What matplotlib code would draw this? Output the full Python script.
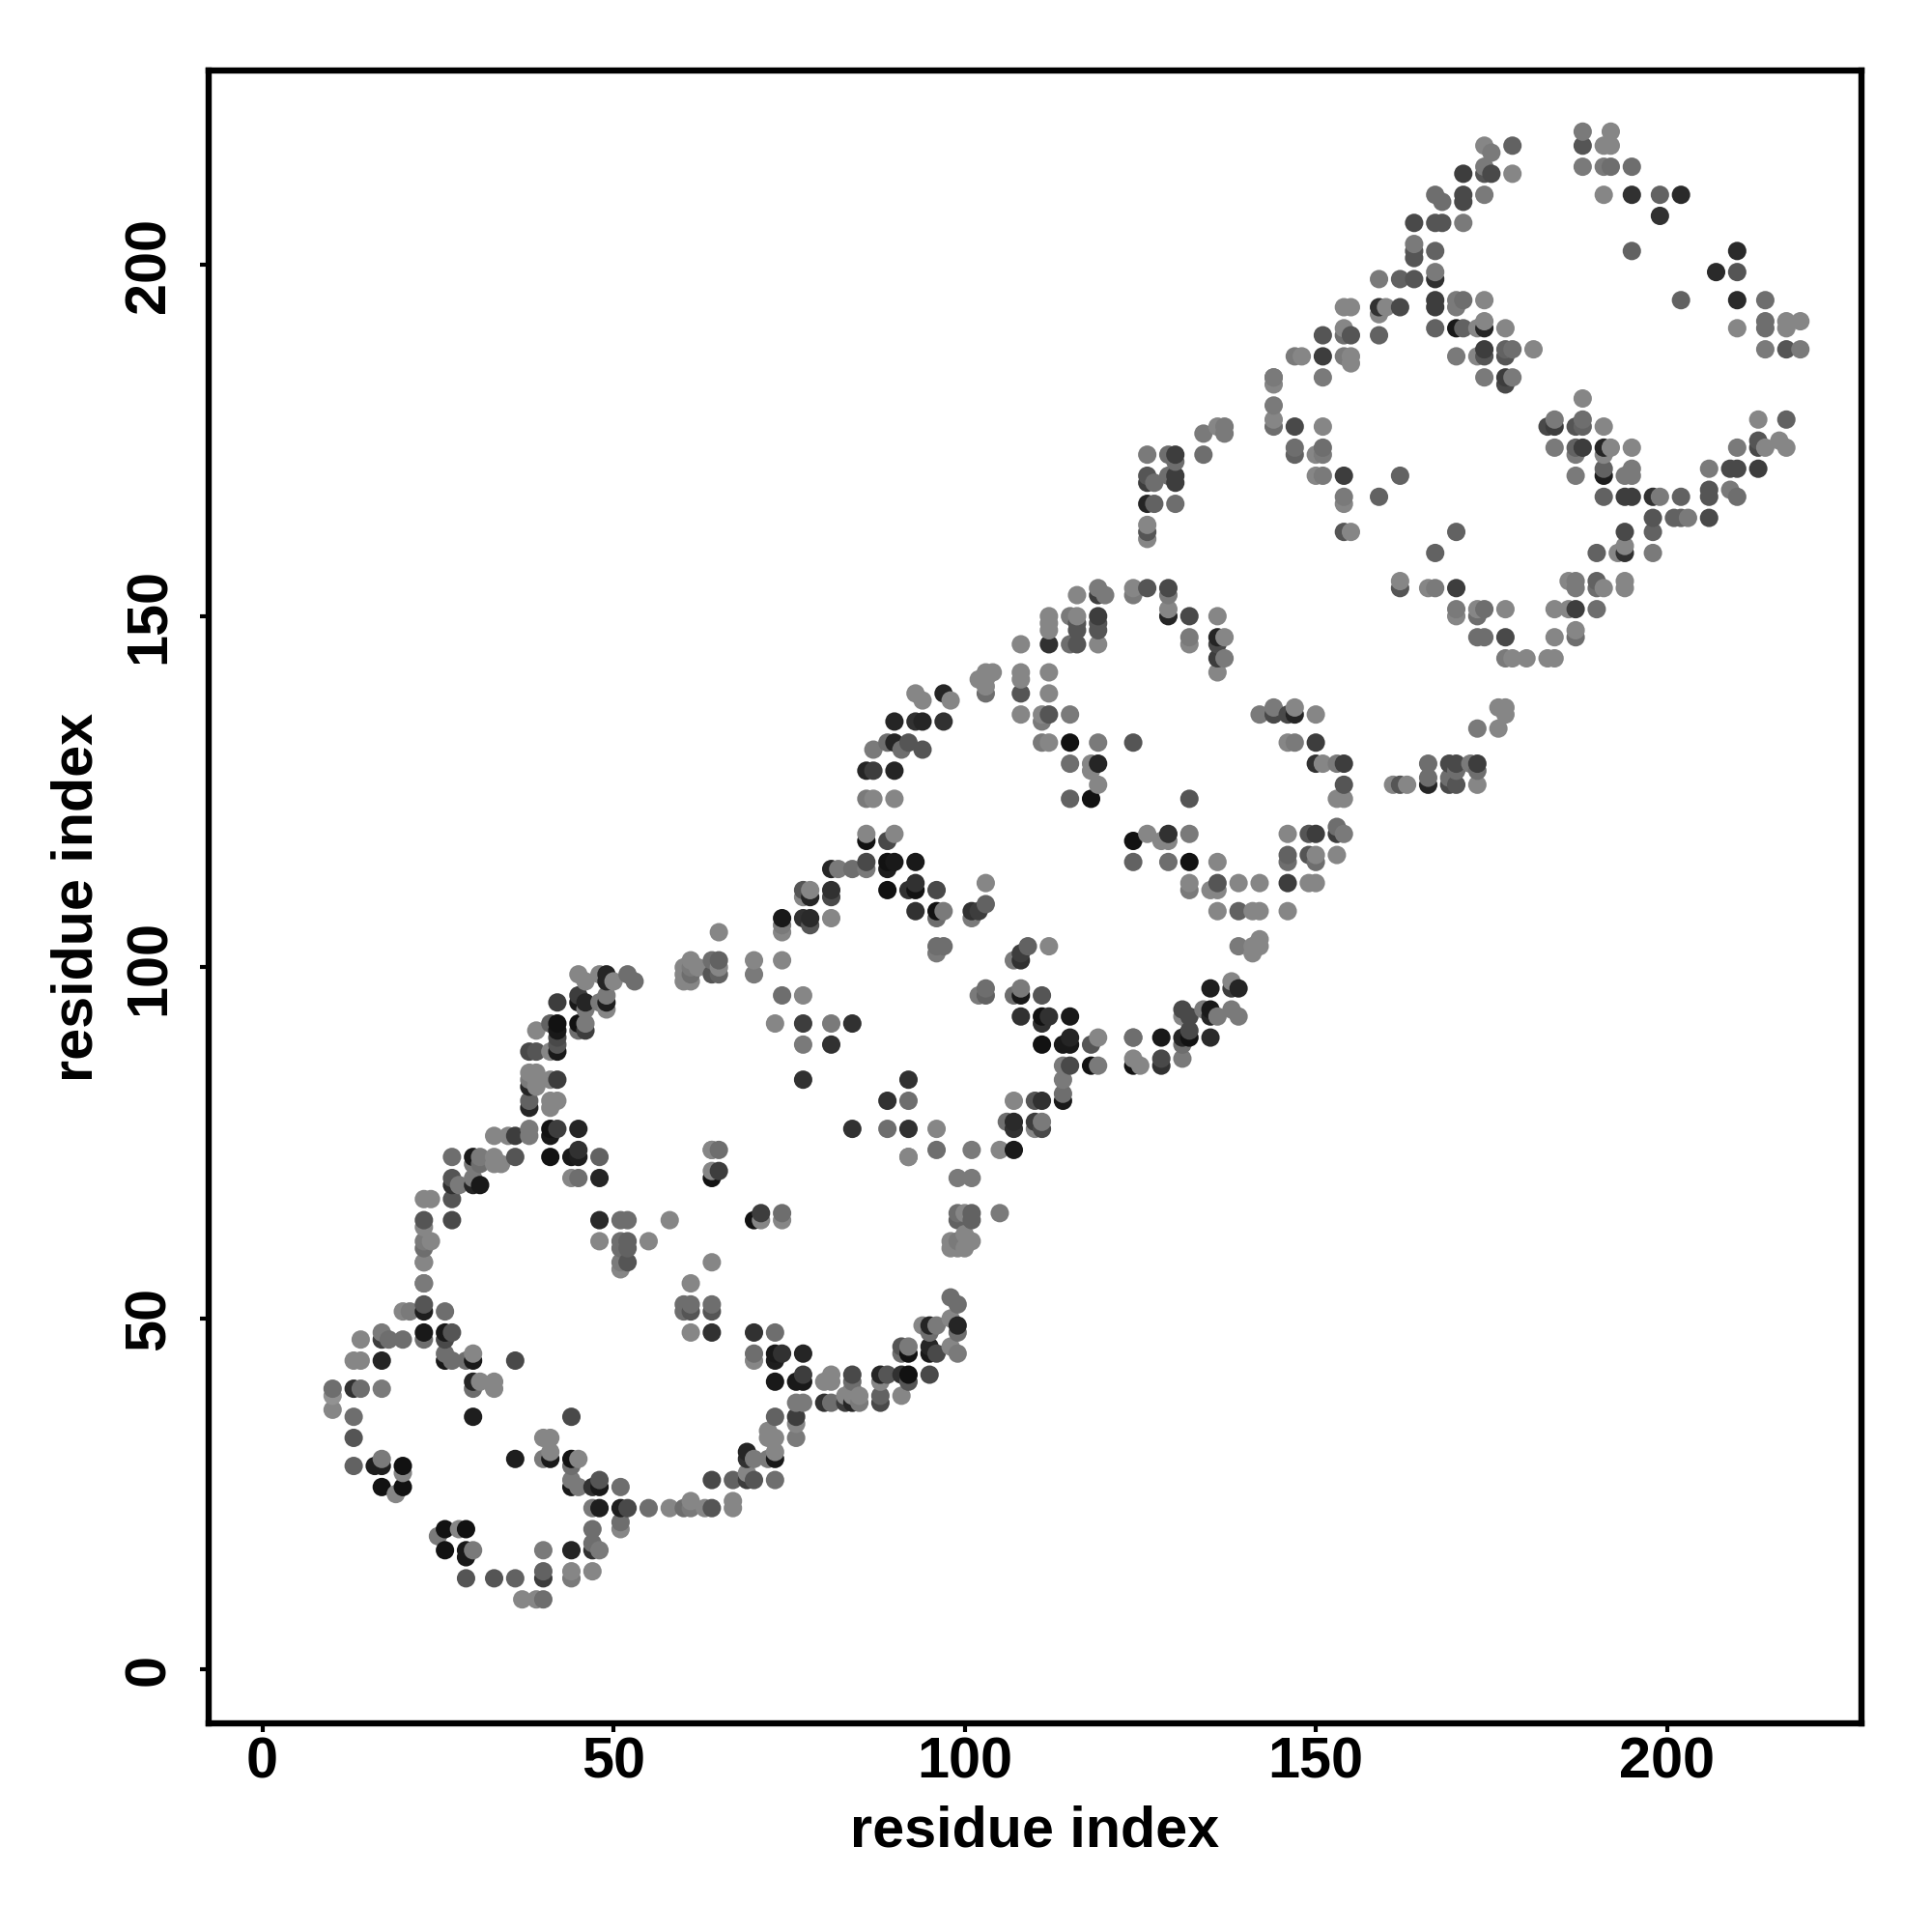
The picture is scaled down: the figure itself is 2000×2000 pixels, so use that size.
import numpy as np
import matplotlib
matplotlib.use("Agg")
import matplotlib.pyplot as plt

plt.rcParams["font.family"] = ["Liberation Sans", "DejaVu Sans"]
plt.rcParams["font.weight"] = "bold"

# contacts, one block per part of the diagonal band
x_low = [23, 23, 20, 21, 23, 23, 26, 23, 26, 27, 23, 26,
         17, 17, 18, 20, 14, 13, 14, 17, 26, 26, 27, 29,
         30, 30, 36, 10, 10, 10, 13, 14, 17, 30, 30, 31,
         33, 33, 13, 30, 44, 13, 13, 16, 17, 17, 20, 20,
         17, 20, 19, 36, 40, 41, 41, 40, 41, 44, 45, 44,
         44, 44, 45, 47, 48, 48, 51, 47, 48, 51, 52, 55,
         58, 51, 51, 47, 47, 47, 48, 44, 40, 47, 44, 44,
         40, 40, 29, 33, 36, 37, 39, 40, 26, 28, 29, 25,
         26, 29, 30, 29]
y_low = [58, 55, 51, 51, 51, 52, 51, 48, 48, 48, 47, 47,
         48, 47, 47, 47, 47, 44, 44, 44, 45, 44, 44, 44,
         44, 45, 44, 40, 39, 37, 40, 40, 40, 41, 40, 41,
         41, 40, 36, 36, 36, 33, 29, 29, 29, 30, 29, 28,
         26, 26, 25, 30, 30, 30, 31, 33, 33, 30, 30, 29,
         27, 26, 26, 26, 26, 27, 26, 23, 23, 23, 23, 23,
         23, 21, 20, 20, 18, 17, 17, 17, 17, 14, 14, 13,
         14, 13, 13, 13, 13, 10, 10, 10, 20, 20, 20, 19,
         17, 17, 17, 16]
g_low = [.5, .45, .5, .45, .07, .3, .4, .05, .05, .3, .4, .25,
         .45, .2, .4, .4, .5, .5, .5, .1, .4, .05, .4, .4,
         .05, .5, .25, .4, .55, .5, .15, .4, .45, .1, .4, .5,
         .5, .5, .4, .07, .25, .3, .35, .07, .07, .45, .02, .5,
         .02, .02, .5, .07, .45, .05, .5, .5, .5, .02, .5, .4,
         .45, .05, .45, .15, .05, .3, .4, .45, .07, .07, .25, .4,
         .5, .4, .5, .4, .4, .15, .45, .1, .45, .5, .5, .45,
         .35, .2, .3, .3, .35, .5, .5, .4, .02, .5, .02, .45,
         .02, .05, .45, .05]

x_arc = [92, 99, 101, 64, 65, 64, 70, 71, 71, 74, 74, 99,
         99, 100, 101, 101, 105, 98, 98, 99, 99, 100, 100, 101,
         64, 60, 60, 61, 61, 61, 64, 64, 61, 64, 70, 73,
         70, 70, 73, 73, 74, 77, 73, 76, 77, 77, 80, 81,
         81, 84, 84, 84, 88, 89, 88, 91, 92, 92, 95, 76,
         77, 80, 81, 83, 84, 85, 83, 84, 85, 88, 88, 91,
         73, 76, 76, 76, 72, 72, 73, 69, 69, 70, 72, 73,
         73, 64, 67, 69, 69, 70, 73, 60, 61, 61, 63, 64,
         67, 67, 98, 99, 98, 99, 99, 98, 99, 94, 95, 96,
         95, 91, 92, 91, 92, 95, 95, 96]
y_arc = [73, 70, 70, 70, 71, 71, 64, 65, 64, 65, 64, 65,
         64, 65, 65, 64, 65, 61, 60, 61, 60, 62, 60, 61,
         58, 52, 51, 55, 52, 51, 52, 51, 48, 48, 48, 48,
         45, 44, 45, 44, 45, 45, 41, 41, 41, 42, 41, 42,
         41, 42, 41, 40, 42, 42, 41, 42, 42, 41, 42, 38,
         38, 38, 38, 38, 38, 38, 39, 39, 39, 38, 39, 39,
         36, 36, 35, 33, 34, 33, 33, 31, 30, 30, 30, 31,
         30, 27, 27, 27, 28, 27, 27, 23, 23, 24, 23, 23,
         23, 24, 53, 52, 50, 49, 48, 46, 45, 49, 49, 49,
         48, 46, 46, 45, 45, 46, 45, 45]
g_arc = [.5, .45, .45, .02, .2, .5, .02, .2, .5, .4, .5, .4,
         .35, .5, .35, .35, .45, .5, .5, .45, .5, .5, .5, .5,
         .5, .4, .4, .5, .4, .3, .4, .3, .5, .15, .15, .4,
         .4, .5, .05, .07, .15, .1, .05, .05, .05, .2, .5, .5,
         .5, .25, .4, .5, .1, .3, .5, .15, .02, .3, .25, .45,
         .45, .15, .4, .2, .1, .45, .5, .5, .5, .25, .35, .5,
         .35, .2, .5, .45, .5, .5, .5, .1, .15, .45, .45, .5,
         .05, .25, .35, .2, .5, .3, .4, .4, .45, .5, .5, .3,
         .5, .5, .4, .4, .5, .1, .4, .5, .45, .5, .1, .45,
         .4, .3, .45, .4, .02, .1, .05, .25]

x_up = [65, 70, 70, 60, 60, 60, 61, 61, 61, 61, 62, 64,
        64, 65, 65, 65, 45, 46, 48, 49, 49, 50, 52, 53,
        42, 45, 45, 46, 46, 48, 49, 49, 49, 39, 41, 42,
        42, 42, 45, 45, 46, 46, 38, 39, 41, 42, 42, 38,
        39, 38, 39, 38, 39, 41, 42, 41, 42, 41, 38, 38,
        33, 35, 36, 38, 38, 41, 41, 42, 45, 27, 30, 31,
        30, 31, 33, 33, 34, 36, 41, 44, 45, 45, 48, 44,
        45, 48, 27, 27, 28, 30, 30, 31, 23, 24, 27, 23,
        23, 27, 48, 51, 52, 58, 48, 51, 52, 55, 51, 52,
        51, 52, 51, 64, 23, 24, 23, 23, 23, 64, 65]
y_up = [105, 101, 99, 100, 99, 98, 101, 100, 98, 99, 100, 101,
        99, 101, 100, 99, 99, 98, 99, 99, 98, 98, 99, 98,
        95, 96, 95, 95, 94, 95, 96, 95, 94, 91, 92, 92,
        91, 90, 92, 91, 92, 91, 88, 88, 88, 89, 88, 85,
        85, 84, 84, 83, 83, 84, 84, 81, 81, 80, 81, 80,
        76, 76, 76, 77, 76, 77, 76, 77, 77, 73, 73, 73,
        72, 72, 73, 72, 72, 73, 73, 73, 73, 74, 73, 70,
        70, 70, 70, 69, 69, 69, 70, 69, 67, 67, 67, 64,
        63, 64, 64, 64, 64, 64, 61, 61, 61, 61, 60, 60,
        57, 58, 58, 74, 61, 61, 60, 58, 55, 74, 74]
g_up = [.5, .5, .45, .5, .5, .5, .5, .45, .5, .4, .5, .4,
        .3, .35, .5, .35, .5, .5, .5, .1, .1, .5, .4, .4,
        .2, .2, .05, .1, .45, .45, .45, .07, .5, .5, .35, .02,
        .05, .25, .02, .4, .45, .2, .25, .3, .5, .3, .05, .5,
        .5, .45, .5, .1, .5, .5, .2, .5, .5, .5, .35, .1,
        .5, .5, .2, .45, .45, .02, .05, .2, .1, .4, .05, .45,
        .45, .4, .5, .5, .5, .3, .02, .05, .07, .15, .35, .5,
        .4, .1, .3, .15, .45, .1, .45, .05, .5, .5, .3, .3,
        .5, .25, .12, .4, .4, .5, .5, .4, .35, .5, .4, .35,
        .5, .3, .45, .5, .45, .5, .4, .5, .45, .5, .4]

x_mid = [86, 86, 89, 90, 81, 82, 84, 86, 86, 89, 89, 90,
         93, 77, 78, 77, 78, 81, 81, 89, 92, 93, 93, 96,
         103, 103, 74, 74, 74, 77, 78, 78, 81, 93, 96, 97,
         96, 101, 102, 101, 96, 97, 96, 109, 112, 107, 108, 108,
         74, 74, 77, 102, 103, 103, 107, 108, 108, 111, 108, 111,
         112, 111, 115, 73, 77, 81, 84, 77, 81, 111, 114, 115,
         115, 118, 119, 114, 115, 118, 119, 114, 114, 114, 107, 110,
         111, 77, 92, 89, 92, 84, 89, 92, 96, 106, 107, 107,
         110, 111, 110, 111, 96, 101, 105, 107, 92]
y_mid = [119, 118, 118, 119, 114, 114, 114, 115, 114, 115, 114, 115,
         115, 111, 111, 110, 110, 111, 110, 111, 111, 112, 111, 111,
         112, 109, 107, 106, 105, 107, 107, 106, 107, 108, 108, 108,
         107, 108, 108, 107, 103, 103, 102, 103, 103, 101, 102, 101,
         101, 96, 96, 96, 97, 96, 96, 97, 96, 96, 93, 93,
         93, 92, 93, 92, 92, 92, 92, 89, 89, 89, 89, 89,
         90, 89, 90, 86, 86, 86, 86, 84, 82, 81, 81, 81,
         81, 84, 84, 81, 81, 77, 77, 77, 77, 78, 78, 77,
         78, 78, 77, 77, 74, 74, 74, 74, 73]
g_mid = [.5, .02, .25, .5, .1, .45, .4, .25, .45, .02, .07, .05,
         .05, .3, .5, .5, .1, .15, .25, .02, .15, .15, .02, .25,
         .5, .35, .05, .45, .5, .15, .12, .3, .5, .15, .02, .45,
         .4, .15, .2, .45, .4, .4, .45, .35, .5, .45, .2, .15,
         .5, .4, .5, .45, .4, .35, .4, .45, .05, .3, .15, .02,
         .15, .15, .05, .5, .2, .45, .15, .45, .15, .02, .05, .05,
         .1, .3, .5, .45, .25, .02, .45, .45, .4, .05, .5, .3,
         .15, .15, .15, .15, .4, .15, .4, .15, .5, .4, .12, .15,
         .2, .45, .5, .25, .4, .45, .5, .05, .5]

x_band = [108, 112, 115, 116, 119, 112, 116, 119, 132, 132, 136, 137,
          136, 136, 137, 136, 102, 103, 104, 103, 103, 103, 108, 108,
          108, 112, 112, 108, 111, 111, 112, 115, 111, 112, 115, 119,
          124, 115, 118, 119, 118, 119, 115, 118, 132, 124, 126, 128,
          129, 129, 132, 124, 129, 132, 136, 132, 132, 135, 136, 136,
          139, 142, 136, 139, 141, 142, 146, 146, 149, 150, 146, 146,
          149, 150, 150, 153, 146, 149, 150, 153, 153, 154, 142, 144,
          144, 146, 147, 147, 150, 146, 147, 150, 150, 151, 153, 154,
          154, 153, 154, 139, 141, 142, 141, 142, 124, 124, 124, 124,
          125, 128, 128, 128, 131, 131, 132, 131, 131, 132, 132, 131,
          134, 135, 135, 136, 138, 139, 135, 135, 138, 138, 139, 86,
          87, 86, 87, 90, 90, 87, 89, 90, 91, 92, 90, 94,
          93, 94, 93, 94, 97, 97, 98]
y_band = [146, 146, 146, 146, 146, 148, 148, 148, 147, 146, 147, 147,
          146, 144, 144, 142, 141, 142, 142, 141, 140, 139, 142, 141,
          139, 142, 139, 136, 136, 135, 136, 136, 132, 132, 132, 132,
          132, 129, 129, 129, 128, 126, 124, 124, 124, 118, 119, 118,
          119, 118, 119, 115, 115, 115, 115, 112, 111, 111, 112, 111,
          112, 112, 108, 108, 108, 108, 108, 112, 112, 112, 116, 115,
          116, 116, 115, 116, 119, 119, 119, 120, 119, 119, 136, 137,
          136, 136, 137, 136, 136, 132, 132, 132, 129, 129, 129, 129,
          126, 124, 124, 103, 103, 104, 102, 103, 90, 87, 86, 90,
          86, 90, 87, 86, 94, 93, 91, 90, 87, 93, 90, 89,
          94, 94, 93, 93, 94, 93, 90, 97, 98, 97, 97, 124,
          124, 128, 128, 128, 124, 131, 132, 132, 131, 132, 135, 131,
          135, 135, 139, 138, 135, 139, 138]
g_band = [.5, .15, .4, .3, .5, .5, .3, .3, .45, .5, .1, .5,
          .25, .2, .45, .5, .5, .5, .5, .5, .5, .4, .5, .5,
          .3, .5, .5, .5, .5, .45, .3, .45, .45, .5, .02, .45,
          .3, .4, .5, .1, .5, .5, .35, .02, .3, .02, .5, .5,
          .15, .5, .45, .35, .4, .02, .5, .5, .45, .5, .3, .5,
          .5, .5, .5, .35, .5, .5, .5, .2, .5, .5, .35, .4,
          .3, .5, .4, .5, .5, .3, .2, .4, .2, .45, .45, .45,
          .25, .25, .5, .1, .5, .5, .45, .2, .15, .5, .45, .2,
          .3, .5, .5, .45, .5, .5, .5, .5, .4, .5, .02, .4,
          .5, .05, .25, .15, .25, .5, .25, .1, .45, .25, .02, .4,
          .45, .05, .1, .45, .45, .45, .12, .07, .5, .2, .1, .45,
          .5, .1, .2, .1, .5, .45, .4, .1, .4, .3, .1, .3,
          .15, .1, .5, .5, .15, .1, .5]

x_hi = [144, 144, 144, 144, 147, 151, 134, 136, 137, 137, 126, 129,
        130, 130, 134, 147, 147, 150, 151, 151, 126, 126, 127, 129,
        130, 130, 150, 151, 154, 162, 154, 154, 159, 126, 127, 130,
        126, 126, 126, 154, 155, 116, 119, 119, 120, 124, 124, 126,
        129, 129, 129, 129, 132, 136, 112, 112, 115, 116, 116, 119,
        119, 170, 167, 162, 162, 166, 167, 170, 186, 187, 187, 190,
        190, 191, 194, 194, 170, 170, 173, 174, 173, 177, 184, 186,
        187, 190, 173, 174, 177, 184, 187, 187, 177, 178, 180, 183,
        184, 176, 177, 177, 173, 176, 166, 169, 170, 170, 172, 173,
        173, 161, 162, 163, 166, 166, 169, 169, 170, 173, 144, 144,
        147, 148, 151, 151, 151]
y_hi = [183, 180, 178, 177, 177, 177, 176, 177, 177, 176, 173, 173,
        173, 172, 173, 174, 173, 173, 174, 173, 170, 169, 169, 170,
        170, 169, 170, 170, 170, 170, 167, 166, 167, 166, 166, 166,
        163, 162, 161, 162, 162, 153, 154, 153, 153, 154, 153, 154,
        154, 153, 151, 150, 150, 150, 150, 149, 150, 150, 149, 150,
        149, 162, 159, 155, 154, 154, 154, 154, 155, 155, 154, 155,
        154, 154, 155, 154, 151, 150, 151, 151, 150, 151, 151, 151,
        151, 151, 147, 147, 147, 147, 148, 147, 144, 144, 144, 144,
        144, 137, 137, 136, 134, 134, 129, 129, 129, 128, 129, 129,
        128, 126, 126, 126, 127, 126, 127, 126, 126, 126, 184, 184,
        187, 187, 190, 187, 184]
g_hi = [.5, .45, .5, .4, .25, .5, .45, .5, .45, .45, .45, .4,
        .2, .4, .4, .4, .35, .5, .4, .45, .3, .2, .4, .4,
        .2, .2, .5, .45, .2, .35, .45, .5, .35, .1, .35, .4,
        .5, .3, .5, .3, .5, .5, .45, .2, .45, .5, .45, .3,
        .25, .45, .5, .1, .25, .5, .5, .5, .45, .5, .3, .2,
        .3, .35, .35, .5, .3, .5, .45, .2, .5, .45, .45, .35,
        .4, .5, .5, .5, .45, .5, .5, .4, .4, .5, .5, .5,
        .2, .4, .4, .4, .25, .5, .5, .4, .45, .5, .5, .5,
        .5, .5, .5, .5, .45, .5, .4, .25, .25, .4, .45, .2,
        .4, .5, .3, .5, .4, .1, .4, .25, .3, .5, .45, .45,
        .45, .5, .3, .2, .45]

x_top = [188, 192, 188, 191, 192, 188, 191, 192, 195, 191, 195, 199,
         202, 199, 195, 210, 207, 210, 202, 210, 214, 210, 214, 214,
         217, 217, 219, 214, 217, 219, 174, 175, 178, 174, 174, 175,
         178, 171, 167, 168, 171, 171, 174, 164, 167, 168, 171, 164,
         164, 164, 167, 159, 162, 164, 167, 167, 167, 167, 170, 171,
         170, 174, 154, 155, 159, 160, 159, 162, 154, 154, 155, 159,
         167, 170, 171, 173, 174, 174, 177, 154, 155, 155, 170, 173,
         174, 174, 177, 178, 177, 181, 174, 177, 178, 177, 188, 184,
         183, 184, 187, 188, 188, 191, 213, 217, 184, 187, 188, 187,
         191, 192, 191, 195, 210, 213, 213, 214, 216, 217, 187, 191,
         191, 194, 195, 195, 206, 209, 210, 213, 191, 194, 195, 198,
         199, 202, 206, 206, 209, 210, 198, 201, 202, 203, 206, 194,
         198, 190, 193, 194, 194, 198]
y_top = [219, 219, 217, 217, 217, 214, 214, 214, 214, 210, 210, 210,
         210, 207, 202, 202, 199, 199, 195, 195, 195, 191, 192, 191,
         192, 191, 192, 188, 188, 188, 217, 216, 217, 214, 213, 213,
         213, 213, 210, 209, 210, 209, 210, 206, 206, 206, 206, 203,
         202, 201, 202, 198, 198, 198, 199, 198, 195, 194, 195, 195,
         194, 195, 194, 194, 194, 194, 193, 194, 191, 190, 190, 190,
         191, 191, 191, 191, 192, 191, 191, 187, 187, 186, 187, 187,
         188, 187, 188, 188, 187, 188, 184, 184, 184, 183, 181, 178,
         177, 177, 177, 178, 177, 177, 178, 178, 174, 174, 174, 173,
         174, 174, 173, 174, 174, 175, 174, 174, 175, 174, 170, 171,
         170, 170, 171, 170, 171, 171, 171, 171, 167, 167, 167, 167,
         167, 167, 168, 167, 168, 167, 164, 164, 164, 164, 164, 162,
         162, 159, 159, 160, 159, 159]
g_top = [.45, .5, .3, .5, .5, .45, .45, .4, .4, .5, .15, .35,
         .12, .15, .35, .12, .12, .3, .35, .12, .4, .5, .4, .4,
         .5, .5, .5, .45, .3, .45, .5, .45, .35, .45, .3, .25,
         .5, .2, .4, .4, .25, .25, .45, .25, .3, .3, .45, .45,
         .3, .3, .35, .45, .35, .3, .45, .15, .2, .2, .45, .4,
         .45, .5, .5, .5, .15, .5, .5, .25, .5, .4, .3, .35,
         .35, .05, .35, .5, .5, .1, .5, .45, .5, .5, .45, .5,
         .2, .3, .35, .4, .3, .5, .45, .2, .45, .25, .5, .45,
         .25, .2, .3, .4, .35, .5, .5, .35, .45, .35, .2, .45,
         .1, .5, .5, .5, .45, .3, .25, .5, .5, .5, .45, .35,
         .07, .45, .45, .45, .45, .25, .25, .2, .35, .2, .2, .15,
         .45, .35, .3, .3, .45, .4, .3, .35, .35, .45, .25, .25,
         .35, .35, .5, .5, .15, .45]

xticks = [0, 50, 100, 150, 200]
yticks = [0, 50, 100, 150, 200]

xs = np.array(x_low + x_arc + x_up + x_mid + x_band + x_hi + x_top)
ys = np.array(y_low + y_arc + y_up + y_mid + y_band + y_hi + y_top)
gs = np.array(g_low + g_arc + g_up + g_mid + g_band + g_hi + g_top)

# later residues sit on top in the original
order = np.lexsort((ys, xs))
grey = gs[order] * 0.95 + 0.05
colors = np.repeat(grey[:, None], 3, axis=1)

fig = plt.figure(figsize=(10, 10), dpi=200)
ax = fig.add_axes([0.108, 0.108, 0.8555, 0.8555])
ax.scatter(xs[order], ys[order], s=47, c=colors, linewidths=0, zorder=3)

ax.set_xlim(-7.65, 227.7)
ax.set_ylim(-7.65, 227.7)
ax.set_xticks(xticks)
ax.set_yticks(yticks)
ax.tick_params(axis="both", width=1.5, length=3.1, labelsize=21.4)
ax.tick_params(axis="x", pad=1.6)
ax.tick_params(axis="y", pad=9)
for lab in ax.get_yticklabels():
    lab.set_rotation(90)
    lab.set_va("center")
for side in ax.spines.values():
    side.set_linewidth(2.3)

ax.set_xlabel("residue index", fontsize=21.4, fontweight="bold", labelpad=6)
ax.set_ylabel("residue index", fontsize=21.4, fontweight="bold", labelpad=7)

fig.savefig("out.png", dpi=200)
plt.close(fig)
